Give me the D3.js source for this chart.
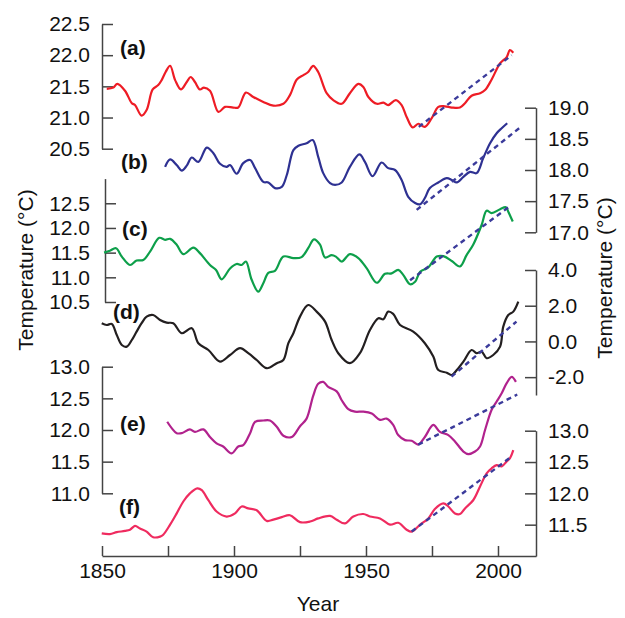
<!DOCTYPE html>
<html lang="en">
<head>
  <meta charset="UTF-8">
  <title>Temperature series</title>
  <style>
    body { margin: 0; background: #fff; }
    text { font-family: "Liberation Sans", Arial, sans-serif; fill: #111; }
  </style>
</head>
<body>
  <script src="https://cdn.jsdelivr.net/npm/d3@7/dist/d3.min.js"></script>
  <script>
// series (a) - (f): year / temperature
const yearsA = [1851.8,1854.3,1855.8,1858.7,1861.3,1862.5,1865.0,1866.9,1869.2,1871.3,1872.6,1874.1,1875.8,1877.7,1879.9,1882.1,1883.6,1885.2,1887.1,1888.6,1890.9,1894.1,1896.6,1899.7,1901.6,1904.5,1907.3,1911.1,1914.9,1918.7,1921.2,1923.8,1926.3,1928.1,1930.0,1931.9,1935.1,1937.6,1940.8,1943.9,1947.1,1949.0,1950.9,1954.1,1956.6,1958.4,1961.3,1963.5,1965.4,1967.7,1969.8,1972.3,1974.9,1977.4,1979.9,1982.5,1985.6,1987.5,1990.0,1993.2,1995.1,1997.6,2000.8,2003.3,2004.5,2005.8]
const tempA  = [21.46,21.48,21.54,21.43,21.23,21.20,21.03,21.12,21.45,21.52,21.60,21.73,21.83,21.60,21.45,21.57,21.65,21.57,21.45,21.48,21.43,21.09,21.17,21.16,21.16,21.40,21.33,21.25,21.19,21.22,21.36,21.61,21.68,21.73,21.83,21.73,21.39,21.28,21.22,21.39,21.54,21.49,21.33,21.22,21.24,21.20,21.28,21.20,21.01,20.84,20.90,20.85,20.99,21.17,21.18,21.16,21.16,21.23,21.35,21.39,21.44,21.61,21.87,21.97,22.08,22.04]

const yearsB = [1873.9,1875.8,1878.3,1880.2,1882.1,1884.0,1886.5,1889.7,1892.2,1894.7,1897.2,1898.5,1901.0,1903.5,1906.1,1908.0,1911.1,1913.0,1915.5,1918.1,1920.0,1922.5,1924.4,1927.5,1929.8,1931.9,1933.8,1936.4,1938.3,1940.8,1943.9,1947.5,1949.6,1952.5,1955.9,1958.4,1961.0,1963.5,1966.0,1968.6,1970.5,1972.3,1974.2,1977.4,1980.6,1982.5,1984.4,1986.9,1989.4,1991.9,1994.4,1997.0,1999.5,2001.4,2003.5]
const tempB  = [18.05,18.17,18.08,17.99,18.07,18.20,18.13,18.36,18.27,18.10,18.05,18.08,17.94,18.11,18.16,18.03,17.81,17.80,17.71,17.73,17.92,18.32,18.39,18.43,18.48,18.21,17.95,17.79,17.76,17.80,18.05,18.25,18.13,17.90,18.12,18.03,18.00,17.84,17.57,17.47,17.45,17.55,17.71,17.80,17.87,17.84,17.80,17.89,17.97,17.95,18.19,18.43,18.59,18.67,18.75]

const yearsC = [1850.8,1853.0,1855.3,1857.5,1860.6,1863.1,1865.6,1868.2,1871.7,1873.9,1875.8,1878.3,1880.8,1884.6,1887.1,1890.9,1893.2,1895.3,1898.5,1901.0,1902.9,1904.5,1906.7,1909.2,1911.1,1913.0,1915.5,1918.7,1922.5,1925.6,1928.1,1930.3,1932.6,1934.5,1937.0,1938.6,1940.8,1943.9,1947.1,1950.3,1954.1,1957.2,1959.7,1962.2,1964.1,1966.7,1968.6,1970.5,1973.6,1976.8,1979.3,1982.5,1985.6,1988.1,1990.6,1993.8,1995.7,1997.6,2000.8,2003.0,2003.9,2005.6]
const tempC  = [11.50,11.54,11.59,11.42,11.25,11.34,11.35,11.52,11.80,11.76,11.78,11.66,11.47,11.60,11.49,11.25,11.15,10.96,11.18,11.27,11.25,11.32,10.95,10.71,10.88,11.09,11.13,11.42,11.39,11.41,11.59,11.77,11.66,11.40,11.45,11.42,11.32,11.47,11.39,11.18,10.89,11.07,11.08,11.15,11.05,10.86,10.91,11.11,11.20,11.42,11.43,11.33,11.22,11.45,11.66,12.06,12.35,12.30,12.38,12.42,12.33,12.13]

const yearsD = [1849.9,1851.8,1853.7,1855.6,1857.5,1859.4,1861.3,1863.1,1865.0,1866.9,1869.4,1872.0,1874.5,1877.0,1880.2,1884.0,1886.5,1890.3,1894.7,1898.5,1902.3,1905.4,1908.6,1912.4,1916.2,1918.7,1920.6,1922.5,1925.0,1928.1,1931.3,1934.5,1937.0,1939.5,1943.9,1947.7,1951.5,1954.7,1956.6,1958.4,1960.3,1962.9,1967.9,1972.3,1975.5,1977.4,1980.6,1982.5,1984.4,1986.9,1990.0,1991.9,1993.8,1995.7,1998.2,2000.8,2002.0,2003.9,2005.8,2007.7]
const tempD  = [1.02,0.92,0.98,0.36,-0.20,-0.29,0.08,0.55,1.02,1.39,1.48,1.20,1.05,1.02,0.46,0.74,-0.10,-0.48,-1.13,-0.76,-0.38,-0.66,-1.04,-1.50,-1.22,-1.04,-0.10,0.46,1.39,2.04,1.67,1.11,0.08,-0.66,-1.22,-0.66,0.64,1.30,1.24,1.67,1.54,0.92,0.55,-0.10,-0.85,-1.60,-1.75,-1.88,-1.60,-1.13,-0.48,-0.66,-0.57,-0.94,-0.76,-0.29,0.83,1.48,1.67,2.23]

const yearsE = [1874.7,1876.4,1878.3,1880.2,1883.3,1885.2,1888.4,1890.9,1893.4,1895.9,1899.1,1901.6,1903.5,1906.1,1908.0,1911.1,1913.6,1916.2,1918.7,1921.9,1925.0,1927.5,1930.0,1931.9,1933.8,1935.7,1938.9,1940.8,1943.3,1945.8,1949.0,1952.2,1955.3,1957.8,1960.3,1962.2,1964.8,1967.3,1969.8,1972.3,1975.5,1978.0,1981.2,1983.7,1986.9,1988.8,1991.3,1993.2,1995.1,1997.6,1999.5,2001.4,2003.3,2005.2,2006.8]
const tempE  = [12.13,12.03,11.95,11.95,12.01,11.97,12.01,11.89,11.79,11.74,11.63,11.74,11.76,11.95,12.13,12.15,12.15,12.05,11.91,11.89,12.06,12.18,12.54,12.73,12.76,12.68,12.61,12.47,12.33,12.29,12.29,12.26,12.16,12.18,12.08,11.92,11.84,11.83,11.77,11.89,12.08,11.97,11.92,11.82,11.66,11.62,11.66,11.74,12.00,12.32,12.45,12.58,12.74,12.84,12.76]

const yearsF = [1849.9,1853.0,1855.6,1858.7,1860.6,1862.5,1864.4,1866.9,1869.4,1872.0,1873.2,1875.8,1878.3,1880.8,1883.3,1886.1,1887.8,1890.3,1893.4,1897.2,1900.4,1902.9,1905.4,1908.6,1912.4,1914.9,1918.1,1921.2,1925.0,1928.8,1931.9,1936.4,1938.9,1942.0,1945.2,1949.0,1951.5,1955.3,1959.1,1962.2,1965.4,1967.3,1970.5,1973.6,1976.1,1979.3,1981.2,1983.7,1985.6,1987.5,1990.6,1993.2,1995.7,1997.6,1999.5,2001.4,2003.3,2004.5,2005.8]
const tempF  = [11.36,11.35,11.38,11.40,11.42,11.48,11.44,11.39,11.30,11.31,11.34,11.50,11.68,11.87,12.00,12.08,12.05,11.89,11.71,11.63,11.68,11.79,11.76,11.73,11.56,11.58,11.62,11.65,11.54,11.55,11.60,11.64,11.58,11.52,11.63,11.67,11.63,11.60,11.50,11.53,11.42,11.39,11.50,11.60,11.75,11.84,11.79,11.68,11.67,11.76,11.89,12.11,12.32,12.40,12.45,12.43,12.51,12.56,12.69]

// linear trends since the late 1960s (start, end)
const trendA = [[1970.0, 20.85], [2005.2, 22.00]]
const trendB = [[1969.2, 17.36], [2008.6, 18.69]]
const trendC = [[1966.7, 10.94], [2004.5, 12.44]]
const trendD = [[1982.4, -1.97], [2007.0, 1.11]]
const trendE = [[1969.8, 11.77], [2007.3, 12.56]]
const trendF = [[1967.3, 11.39], [2005.2, 12.59]]

// axis ticks
const xTicks = [1850, 1875, 1900, 1925, 1950, 1975, 2000]
const ticksA = [20.5, 21.0, 21.5, 22.0, 22.5]
const ticksB = [17.0, 17.5, 18.0, 18.5, 19.0]
const ticksC = [10.5, 11.0, 11.5, 12.0, 12.5]
const ticksD = [-2.0, 0.0, 2.0, 4.0]
const ticksE = [11.0, 11.5, 12.0, 12.5, 13.0]
const ticksF = [11.5, 12.0, 12.5, 13.0]

const width = 625
const height = 618

const svg = d3.select('body').append('svg')
  .attr('width', width)
  .attr('height', height)

const x = d3.scaleLinear().domain([1850, 2014.4]).range([102, 536])

// one panel = own y scale, side and colour
const panels = [
  { label: '(a)', years: yearsA, temps: tempA, trend: trendA, ticks: ticksA, domain: [20.5, 22.5], range: [148.7, 24],  side: 'left',  axisX: 102, pad: 12, color: '#ee1c25', lx: 120, ly: 55 },
  { label: '(b)', years: yearsB, temps: tempB, trend: trendB, ticks: ticksB, domain: [17.0, 19.0], range: [232.3, 107.7], side: 'right', axisX: 536, pad: 12, color: '#2e3192', lx: 121, ly: 169 },
  { label: '(c)', years: yearsC, temps: tempC, trend: trendC, ticks: ticksC, domain: [10.5, 13.0], range: [302, 178.6],  side: 'left',  axisX: 105, pad: 15, color: '#0d9f4a', lx: 122, ly: 236 },
  { label: '(d)', years: yearsD, temps: tempD, trend: trendD, ticks: ticksD, domain: [-3, 4],       range: [395, 270],    side: 'right', axisX: 536, pad: 12, color: '#231f20', lx: 113, ly: 319 },
  { label: '(e)', years: yearsE, temps: tempE, trend: trendE, ticks: ticksE, domain: [11.0, 13.0], range: [493.3, 366.7], side: 'left',  axisX: 102, pad: 12, color: '#b1228d', lx: 120, ly: 431 },
  { label: '(f)', years: yearsF, temps: tempF, trend: trendF, ticks: ticksF, domain: [11.0, 13.0], range: [556, 430.7],  side: 'right', axisX: 536, pad: 12, color: '#ef2b5f', lx: 119, ly: 514 }
]

panels.forEach(p => {
  const y = d3.scaleLinear().domain(p.domain).range(p.range)

  const axis = (p.side === 'left' ? d3.axisLeft(y) : d3.axisRight(y))
    .tickValues(p.ticks)
    .tickFormat(d => d.toFixed(1))   // plain hyphen for negatives
    .tickSize(-11)
    .tickSizeOuter(0)
    .tickPadding(p.pad)

  const ga = svg.append('g')
    .attr('transform', `translate(${p.axisX},0)`)
    .call(axis)
  ga.selectAll('path, line').attr('stroke', '#444').attr('stroke-width', 1.5)
  ga.selectAll('text').attr('font-size', 21).attr('fill', '#111')
    .style('font-family', '"Liberation Sans", Arial, sans-serif')

  const line = d3.line()
    .x((d, i) => x(p.years[i]))
    .y(d => y(d))
    .curve(d3.curveCatmullRom.alpha(0.5))

  svg.append('path')
    .datum(p.temps)
    .attr('d', line)
    .attr('fill', 'none')
    .attr('stroke', p.color)
    .attr('stroke-width', 2.2)
    .attr('stroke-linejoin', 'round')

  svg.append('line')
    .attr('x1', x(p.trend[0][0])).attr('y1', y(p.trend[0][1]))
    .attr('x2', x(p.trend[1][0])).attr('y2', y(p.trend[1][1]))
    .attr('stroke', '#3b3b9b')
    .attr('stroke-width', 2.4)
    .attr('stroke-dasharray', '5,4')

  svg.append('text')
    .attr('x', p.lx).attr('y', p.ly)
    .attr('font-size', 21)
    .attr('font-weight', 'bold')
    .text(p.label)
})

// x axis
const xAxis = d3.axisBottom(x)
  .tickValues(xTicks)
  .tickFormat(d => d % 50 === 0 ? d : '')
  .tickSize(-10)
  .tickSizeOuter(0)
  .tickPadding(7)

const gx = svg.append('g')
  .attr('transform', 'translate(0,556)')
  .call(xAxis)
gx.selectAll('path, line').attr('stroke', '#444').attr('stroke-width', 1.5)
gx.selectAll('text').attr('font-size', 21).attr('fill', '#111')
  .style('font-family', '"Liberation Sans", Arial, sans-serif')

// axis titles
svg.append('text')
  .attr('x', 318).attr('y', 611)
  .attr('text-anchor', 'middle')
  .attr('font-size', 21)
  .text('Year')

svg.append('text')
  .attr('transform', 'translate(33,270) rotate(-90)')
  .attr('text-anchor', 'middle')
  .attr('font-size', 21)
  .text('Temperature (°C)')

svg.append('text')
  .attr('transform', 'translate(612,278) rotate(-90)')
  .attr('text-anchor', 'middle')
  .attr('font-size', 21)
  .text('Temperature (°C)')
  </script>
</body>
</html>
